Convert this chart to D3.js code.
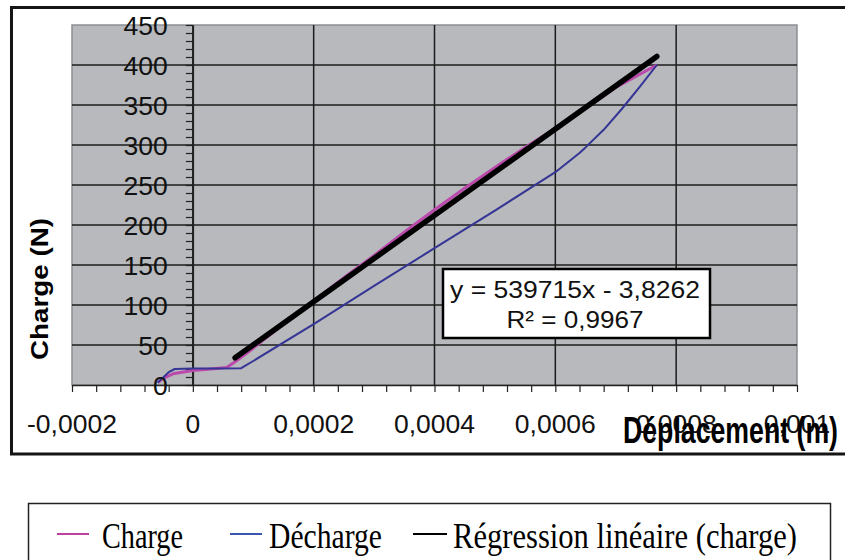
<!DOCTYPE html>
<html><head><meta charset="utf-8">
<script src="https://cdn.jsdelivr.net/npm/d3@7"></script>
<style>body{margin:0;background:#fff}svg{display:block}</style>
</head><body><svg id="c" width="845" height="560"></svg>
<script>
// ---- data ----
const xTicks = [-0.0002, 0, 0.0002, 0.0004, 0.0006, 0.0008, 0.001];
const xTickLabels = ["-0,0002", "0", "0,0002", "0,0004", "0,0006", "0,0008", "0,001"];
const yTicks = [0, 50, 100, 150, 200, 250, 300, 350, 400, 450];
const yTickLabels = ["0", "50", "100", "150", "200", "250", "300", "350", "400", "450"];
const chargeX = [-0.000058, -0.00005, -0.000033, 0, 0.00003, 0.000056, 0.00007, 0.0001, 0.00015, 0.0002, 0.00025, 0.0003, 0.00035, 0.0004, 0.00045, 0.0005, 0.00055, 0.0006, 0.00065, 0.0007, 0.000768];
const chargeY = [3, 8, 14, 18, 20, 22, 29, 46, 76, 105, 134, 162, 191, 219, 246, 272, 297, 321, 346, 372, 400];
const dechargeX = [0.000768, 0.00074, 0.00071, 0.00068, 0.00065, 0.00064, 0.0006, 0.0005, 0.0004, 0.0003, 0.0002, 0.0001, 0.00008, 0.00004, 0, -0.00003, -0.00004, -0.000058];
const dechargeY = [400, 373, 345, 319, 297, 290, 266, 218, 171, 124, 76, 30, 21, 20.5, 20.5, 20, 16, 3];
const regX = [0.00007, 0.000768];
const regY = [34, 410.7];
const seriesNames = ["Charge", "Décharge", "Régression linéaire (charge)"];
const seriesColors = ["#c0409e", "#3a56ae", "#000000"];
const equationLines = ["y = 539715x - 3,8262", "R² = 0,9967"];
const xTitle = "Déplacement (m)";
const yTitle = "Charge (N)";

// ---- drawing ----
const svg = d3.select("#c");
const x = d3.scaleLinear().domain([-0.0002, 0.001]).range([72, 797]);
const y = d3.scaleLinear().domain([0, 450]).range([385, 25]);

// outer frame
svg.append("rect").attr("x", 11.5).attr("y", 7.5).attr("width", 850).attr("height", 446.5)
  .attr("fill", "#fff").attr("stroke", "#151515").attr("stroke-width", 3);

// plot area
svg.append("rect").attr("x", x(-0.0002)).attr("y", y(450))
  .attr("width", x(0.001) - x(-0.0002)).attr("height", y(0) - y(450))
  .attr("fill", "#b7b9bd").attr("stroke", "#8c8e92").attr("stroke-width", 1.5);

// gridlines
svg.append("g").selectAll("line").data(yTicks.filter(v => v > 0 && v < 450)).join("line")
  .attr("x1", x(-0.0002)).attr("x2", x(0.001)).attr("y1", d => y(d)).attr("y2", d => y(d))
  .attr("stroke", "#1c1c1c").attr("stroke-width", 1.5);
svg.append("g").selectAll("line").data(xTicks.filter(v => v > -0.0002 && v < 0.001)).join("line")
  .attr("y1", y(0)).attr("y2", y(450)).attr("x1", d => x(d)).attr("x2", d => x(d))
  .attr("stroke", "#1c1c1c").attr("stroke-width", 1.5);

// minor ticks via axes
const yMinor = d3.range(0, 451, 10);
const xMinor = d3.range(0, 31).map(i => -0.0002 + i * 0.00004);
const gy = svg.append("g").attr("transform", `translate(${x(0)},0)`)
  .call(d3.axisLeft(y).tickValues(yMinor).tickSize(7).tickSizeOuter(0).tickFormat(""));
const gx = svg.append("g").attr("transform", `translate(0,${y(0)})`)
  .call(d3.axisBottom(x).tickValues(xMinor).tickSize(7).tickSizeOuter(0).tickFormat(""));
[gy, gx].forEach(g => { g.selectAll("line").attr("stroke", "#222").attr("stroke-width", 1.2);
  g.select(".domain").attr("stroke", "#222").attr("stroke-width", 1.5); });

// series
const line = d3.line().x(d => x(d[0])).y(d => y(d[1]));
svg.append("path").datum(chargeX.map((v, i) => [v, chargeY[i]]))
  .attr("d", line).attr("fill", "none").attr("stroke", "#bb4aac").attr("stroke-width", 3).attr("stroke-linejoin", "round");
svg.append("path").datum(dechargeX.map((v, i) => [v, dechargeY[i]]))
  .attr("d", line).attr("fill", "none").attr("stroke", "#343594").attr("stroke-width", 2).attr("stroke-linejoin", "round");
svg.append("path").datum(regX.map((v, i) => [v, regY[i]]))
  .attr("d", line).attr("fill", "none").attr("stroke", "#000").attr("stroke-width", 5.5).attr("stroke-linecap", "round");

// tick labels
svg.append("g").selectAll("text").data(yTicks).join("text")
  .attr("x", x(0) - 25).attr("y", d => y(d)).attr("dy", "0.36em")
  .attr("text-anchor", "end").attr("font-family", "Liberation Sans, Arial, sans-serif")
  .attr("font-size", 26.5).attr("fill", "#111").text((d, i) => yTickLabels[i]);
svg.append("g").selectAll("text").data(xTicks).join("text")
  .attr("x", d => x(d)).attr("y", 433)
  .attr("text-anchor", "middle").attr("font-family", "Liberation Sans, Arial, sans-serif")
  .attr("font-size", 26.5).attr("fill", "#111").text((d, i) => xTickLabels[i]);

// axis titles
svg.append("text").attr("transform", "translate(48,289) rotate(-90)")
  .attr("text-anchor", "middle").attr("font-family", "Liberation Sans, Arial, sans-serif")
  .attr("font-weight", "bold").attr("font-size", 24).attr("fill", "#000")
  .attr("textLength", 142).attr("lengthAdjust", "spacingAndGlyphs").text(yTitle);
svg.append("text").attr("x", 623).attr("y", 443)
  .attr("font-family", "Liberation Sans, Arial, sans-serif")
  .attr("font-weight", "bold").attr("font-size", 36).attr("fill", "#000")
  .attr("textLength", 215).attr("lengthAdjust", "spacingAndGlyphs").text(xTitle);

// equation box
svg.append("rect").attr("x", 443).attr("y", 269).attr("width", 267).attr("height", 69)
  .attr("fill", "#fff").attr("stroke", "#000").attr("stroke-width", 2.5);
const eqLen = [250, 137];
const eqY = [298, 328];
svg.append("g").selectAll("text").data(equationLines).join("text")
  .attr("x", 575).attr("y", (d, i) => eqY[i]).attr("text-anchor", "middle")
  .attr("font-family", "Liberation Sans, Arial, sans-serif").attr("font-size", 23.5).attr("fill", "#111")
  .attr("textLength", (d, i) => eqLen[i]).attr("lengthAdjust", "spacingAndGlyphs").text(d => d);

// legend
svg.append("rect").attr("x", 28.5).attr("y", 503.5).attr("width", 802).attr("height", 80)
  .attr("fill", "#fff").attr("stroke", "#222").attr("stroke-width", 1.5);
const legLine = [[57, 89], [230, 262], [413, 447]];
const legText = [[102, 81], [269, 113], [453, 344]];
const lg = svg.append("g");
seriesNames.forEach((n, i) => {
  lg.append("line").attr("x1", legLine[i][0]).attr("x2", legLine[i][1]).attr("y1", 534).attr("y2", 534)
    .attr("stroke", seriesColors[i]).attr("stroke-width", 2);
  lg.append("text").attr("x", legText[i][0]).attr("y", 548)
    .attr("font-family", "Liberation Serif, Times New Roman, serif").attr("font-size", 35).attr("fill", "#000")
    .attr("textLength", legText[i][1]).attr("lengthAdjust", "spacingAndGlyphs").text(n);
});
</script></body></html>
